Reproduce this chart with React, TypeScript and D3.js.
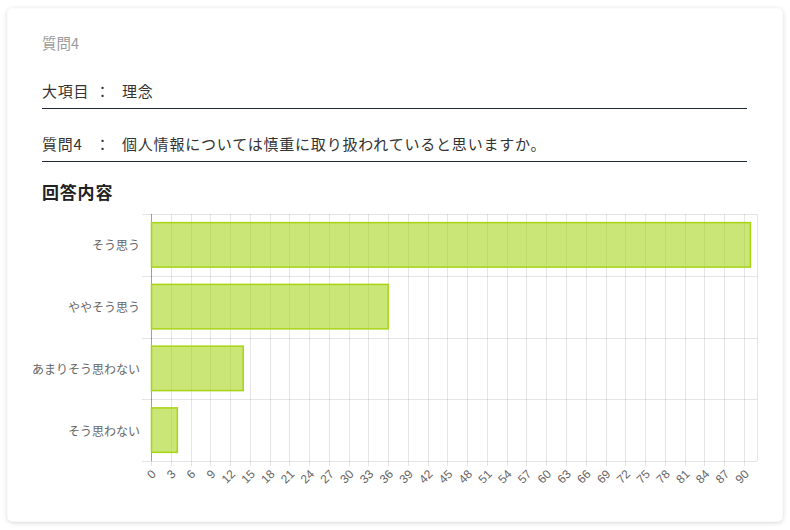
import React from 'react';
import * as d3 from 'd3';

const categories = ['そう思う', 'ややそう思う', 'あまりそう思わない', 'そう思わない'];
const counts = [91, 36, 14, 4];
const xTicks = d3.range(0, 91, 3);

const W = 790;
const H = 530;
const FONT = '"Noto Sans CJK JP", "Noto Sans", sans-serif';

const App: React.FC = () => {
  const x = d3.scaleLinear().domain([0, 92]).range([151, 757]);
  const y = d3.scaleBand<string>().domain(categories).range([214, 461]).padding(0);
  const barH = y.bandwidth() * 0.72;

  return (
    <div style={{ position: 'absolute', left: 0, top: 0 }}>
      <svg width={W} height={H} style={{ display: 'block' }}>
        <defs>
          <filter id="shadow" x="-5%" y="-5%" width="110%" height="110%">
            <feDropShadow dx="0" dy="1" stdDeviation="2.5" floodColor="#000" floodOpacity="0.18" />
          </filter>
        </defs>
        <rect x={0} y={0} width={W} height={H} fill="#fff" />
        <rect x={7.5} y={8.5} width={775} height={513} rx={5} fill="#fff" filter="url(#shadow)" />

        <g fontFamily={FONT}>
          <text x={42} y={49} fontSize={14.5} fill="#9a9a9a">質問4</text>

          <g fontSize={15} fill="#333" letterSpacing={0.8}>
            <text x={42} y={96.5}>大項目</text>
            <text x={95} y={96.5}>：</text>
            <text x={122} y={96.5}>理念</text>
            <text x={42} y={149.5}>質問4</text>
            <text x={95} y={149.5}>：</text>
            <text x={122} y={149.5}>個人情報については慎重に取り扱われていると思いますか。</text>
          </g>
          <line x1={42} x2={747} y1={108.5} y2={108.5} stroke="#1f2937" strokeWidth={1} />
          <line x1={42} x2={747} y1={161.5} y2={161.5} stroke="#1f2937" strokeWidth={1} />

          <text x={42} y={199} fontSize={17} fontWeight="bold" fill="#222" letterSpacing={0.8}>回答内容</text>
        </g>

        {/* vertical grid */}
        <g>
          {xTicks.map(t => (
            <line key={t} x1={Math.round(x(t)) + 0.5} x2={Math.round(x(t)) + 0.5} y1={214} y2={466}
              stroke="rgba(0,0,0,0.1)" />
          ))}
          <line x1={757.5} x2={757.5} y1={214} y2={461} stroke="rgba(0,0,0,0.1)" />
        </g>
        {/* horizontal grid */}
        <g>
          {[...categories.map(c => y(c) as number), 461].map((v, i) => (
            <line key={i} x1={142} x2={757} y1={Math.round(v) + 0.5} y2={Math.round(v) + 0.5}
              stroke="rgba(0,0,0,0.1)" />
          ))}
        </g>
        <line x1={151.5} x2={151.5} y1={214} y2={461} stroke="rgba(0,0,0,0.3)" />

        {/* bars */}
        <g>
          {categories.map((c, i) => {
            const y0 = (y(c) as number) + (y.bandwidth() - barH) / 2;
            return (
              <rect key={c} x={x(0) + 0.5} y={y0} width={x(counts[i]) - x(0) - 0.5} height={barH}
                fill="rgba(163, 212, 20, 0.58)" stroke="#a8d414" strokeWidth={1.5} />
            );
          })}
        </g>

        {/* y labels */}
        <g fontFamily={FONT} fontSize={12} fill="#666">
          {categories.map(c => (
            <text key={c} x={140} y={(y(c) as number) + y.bandwidth() / 2} textAnchor="end"
              dominantBaseline="central">{c}</text>
          ))}
        </g>

        {/* x labels */}
        <g fontFamily={'"Liberation Sans", Arial, sans-serif'} fontSize={12} fill="#666">
          {xTicks.map(t => (
            <text key={t} textAnchor="end" dominantBaseline="central"
              transform={`translate(${x(t) + 3}, ${472}) rotate(-45)`}>{t}</text>
          ))}
        </g>
      </svg>
    </div>
  );
};

export default App;
